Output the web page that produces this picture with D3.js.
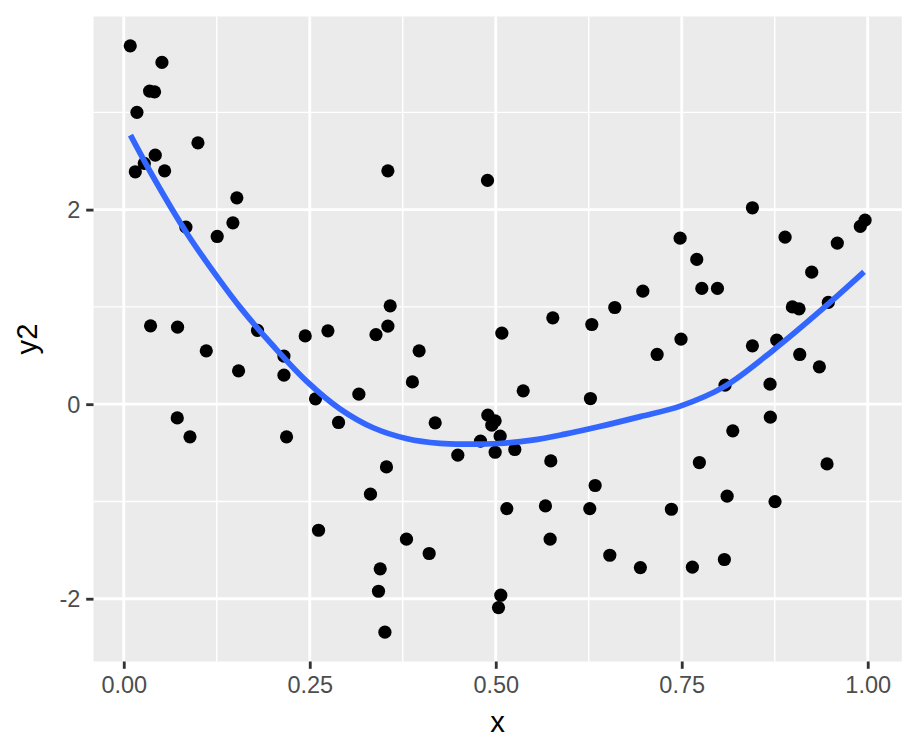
<!DOCTYPE html>
<html>
<head>
<meta charset="utf-8">
<script src="https://cdn.jsdelivr.net/npm/d3@7"></script>
<style>
  html, body { margin: 0; padding: 0; background: #ffffff; }
  svg { display: block; }
</style>
</head>
<body>
<svg id="chart" width="918" height="756"></svg>
<script>
// ---- data ----
const pointX = [
  0.0087, 0.0513, 0.0347, 0.0414, 0.0177, 0.0997, 0.0423, 0.0276, 0.0155, 0.0549,
  0.1520, 0.1467, 0.1256, 0.0835, 0.0360, 0.0723, 0.1798, 0.2439, 0.2744, 0.3390,
  0.3550, 0.4889, 0.3581, 0.3550, 0.5082, 0.5767, 0.6291, 0.6600, 0.6977, 0.8450,
  0.7478, 0.8889, 0.7702, 0.9964, 0.9900, 0.9591, 0.7770, 0.7980, 0.9247, 0.8987,
  0.9077, 0.9470, 0.7490, 0.8777, 0.8450, 0.1109, 0.1543, 0.2153, 0.2153, 0.2577,
  0.3160, 0.0719, 0.0890, 0.2188, 0.2887, 0.3316, 0.2618, 0.3447, 0.3424, 0.3510,
  0.3970, 0.3880, 0.5369, 0.6273, 0.4186, 0.4894, 0.4992, 0.4947, 0.5059, 0.4795,
  0.4992, 0.5256, 0.4490, 0.5740, 0.3531, 0.6336, 0.5149, 0.5668, 0.6264, 0.3800,
  0.5731, 0.4105, 0.6533, 0.6944, 0.5068, 0.5037, 0.7169, 0.9086, 0.9350, 0.8082,
  0.8687, 0.8691, 0.8186, 0.7737, 0.9453, 0.8110, 0.8754, 0.7361, 0.7643, 0.8073
];
const pointY2 = [
  3.684, 3.513, 3.219, 3.211, 3.000, 2.687, 2.560, 2.475, 2.389, 2.399,
  2.121, 1.864, 1.724, 1.820, 0.805, 0.792, 0.758, 0.702, 0.754, 0.715,
  2.399, 2.300, 1.011, 0.802, 0.730, 0.888, 0.819, 0.994, 1.162, 2.019,
  1.707, 1.717, 1.488, 1.892, 1.827, 1.656, 1.190, 1.190, 1.357, 1.000,
  0.980, 1.046, 0.668, 0.658, 0.600, 0.548, 0.343, 0.494, 0.298, 0.055,
  0.103, -0.141, -0.336, -0.336, -0.188, -0.925, -1.296, -1.693, -1.923, -2.344,
  0.548, 0.229, 0.137, 0.058, -0.192, -0.113, -0.171, -0.216, -0.329, -0.380,
  -0.494, -0.466, -0.524, -0.583, -0.645, -0.836, -1.073, -1.046, -1.073, -1.388,
  -1.388, -1.535, -1.553, -1.680, -1.964, -2.091, 0.511, 0.511, 0.384, 0.195,
  0.206, -0.134, -0.274, -0.600, -0.614, -0.946, -1.001, -1.080, -1.676, -1.597
];
// smoother (loess) curve
const smoothX = [0.009, 0.040, 0.085, 0.130, 0.157, 0.201, 0.246, 0.291, 0.336, 0.381, 0.425,
                 0.459, 0.504, 0.549, 0.593, 0.638, 0.694, 0.748, 0.806, 0.873, 0.940, 0.995];
const smoothY = [2.766, 2.330, 1.755, 1.262, 0.990, 0.598, 0.235, -0.050, -0.245, -0.355, -0.403,
                 -0.411, -0.404, -0.370, -0.308, -0.233, -0.128, -0.020, 0.175, 0.555, 0.984, 1.360];
const xTicks = [0, 0.25, 0.5, 0.75, 1.0];
const xTickLabels = ["0.00", "0.25", "0.50", "0.75", "1.00"];
const xMinor = [0.125, 0.375, 0.625, 0.875];
const yTicks = [-2, 0, 2];
const yTickLabels = ["-2", "0", "2"];
const yMinor = [-3, -1, 1, 3];
const xTitle = "x";
const yTitle = "y2";

// ---- layout ----
const panel = { left: 93.5, right: 901.8, top: 16.5, bottom: 661.5 };
const svg = d3.select("#chart");

function expand(ext) {
  const d = (ext[1] - ext[0]) * 0.05;
  return [ext[0] - d, ext[1] + d];
}
const x = d3.scaleLinear().domain(expand(d3.extent(pointX))).range([panel.left, panel.right]);
const y = d3.scaleLinear().domain(expand(d3.extent(pointY2))).range([panel.bottom, panel.top]);

const points = pointX.map((v, i) => ({ x: v, y: pointY2[i] }));
const smooth = smoothX.map((v, i) => ({ x: v, y: smoothY[i] }));

// panel background
svg.append("rect")
  .attr("x", panel.left).attr("y", panel.top)
  .attr("width", panel.right - panel.left).attr("height", panel.bottom - panel.top)
  .attr("fill", "#EBEBEB");

const grid = svg.append("g");
// minor grid
grid.selectAll(".vmin").data(xMinor).enter().append("line")
  .attr("x1", d => x(d)).attr("x2", d => x(d))
  .attr("y1", panel.top).attr("y2", panel.bottom)
  .attr("stroke", "#ffffff").attr("stroke-width", 1.42);
grid.selectAll(".hmin").data(yMinor.filter(v => y(v) > panel.top && y(v) < panel.bottom)).enter().append("line")
  .attr("y1", d => y(d)).attr("y2", d => y(d))
  .attr("x1", panel.left).attr("x2", panel.right)
  .attr("stroke", "#ffffff").attr("stroke-width", 1.42);
// major grid
grid.selectAll(".vmaj").data(xTicks).enter().append("line")
  .attr("x1", d => x(d)).attr("x2", d => x(d))
  .attr("y1", panel.top).attr("y2", panel.bottom)
  .attr("stroke", "#ffffff").attr("stroke-width", 2.85);
grid.selectAll(".hmaj").data(yTicks).enter().append("line")
  .attr("y1", d => y(d)).attr("y2", d => y(d))
  .attr("x1", panel.left).attr("x2", panel.right)
  .attr("stroke", "#ffffff").attr("stroke-width", 2.85);

// points
svg.append("g").selectAll("circle").data(points).enter().append("circle")
  .attr("cx", d => x(d.x)).attr("cy", d => y(d.y)).attr("r", 6.6)
  .attr("fill", "#000000");

// smoother
const line = d3.line().x(d => x(d.x)).y(d => y(d.y)).curve(d3.curveCatmullRom.alpha(0.5));
svg.append("path").datum(smooth)
  .attr("d", line)
  .attr("fill", "none").attr("stroke", "#3366FF").attr("stroke-width", 5.7)
  .attr("stroke-linecap", "butt").attr("stroke-linejoin", "round");

// axes
const fontFam = "'Liberation Sans', Arial, Helvetica, sans-serif";
const xAxis = d3.axisBottom(x).tickValues(xTicks).tickFormat((d, i) => xTickLabels[i])
  .tickSizeInner(7.3).tickSizeOuter(0).tickPadding(5.9);
const gx = svg.append("g").attr("transform", `translate(0,${panel.bottom})`).call(xAxis);
gx.select(".domain").remove();
gx.selectAll(".tick line").attr("stroke", "#333333").attr("stroke-width", 2.85);
gx.selectAll(".tick text").attr("fill", "#4D4D4D").attr("font-size", 23.5)
  .attr("font-family", fontFam).attr("dy", "0.76em");

const yAxis = d3.axisLeft(y).tickValues(yTicks).tickFormat((d, i) => yTickLabels[i])
  .tickSizeInner(7.3).tickSizeOuter(0).tickPadding(5.9);
const gy = svg.append("g").attr("transform", `translate(${panel.left},0)`).call(yAxis);
gy.select(".domain").remove();
gy.selectAll(".tick line").attr("stroke", "#333333").attr("stroke-width", 2.85);
gy.selectAll(".tick text").attr("fill", "#4D4D4D").attr("font-size", 23.5)
  .attr("font-family", fontFam).attr("dy", "0.35em");

// titles
svg.append("text").text(xTitle)
  .attr("x", (panel.left + panel.right) / 2).attr("y", 732)
  .attr("text-anchor", "middle").attr("font-size", 29.3)
  .attr("font-family", fontFam).attr("fill", "#000000");
svg.append("text").text(yTitle)
  .attr("transform", `translate(37,${(panel.top + panel.bottom) / 2}) rotate(-90)`)
  .attr("text-anchor", "middle").attr("font-size", 29.3)
  .attr("font-family", fontFam).attr("fill", "#000000");
</script>
</body>
</html>
